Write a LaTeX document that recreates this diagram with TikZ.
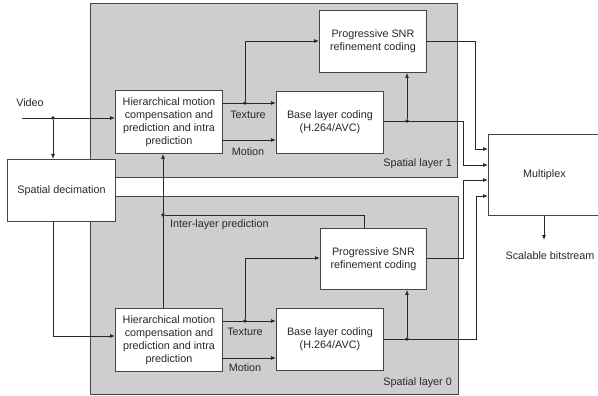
\documentclass[tikz,border=0pt]{standalone}
\usepackage{fontspec}
\setmainfont{Liberation Sans}
\usetikzlibrary{arrows.meta}
\definecolor{layerfill}{RGB}{206,206,206}
\definecolor{edge}{RGB}{70,70,70}
\definecolor{ink}{RGB}{40,40,40}
\begin{document}
\begin{tikzpicture}[x=1pt,y=-1pt,
  font=\fontsize{10.8}{13}\selectfont, text=ink,
  layer/.style={draw=edge, line width=0.9pt, fill=layerfill},
  block/.style={draw=edge, line width=0.9pt, fill=white, align=center,
    inner sep=0pt, anchor=north west},
  wire/.style={draw=ink, line width=0.8pt},
  arr/.style={wire, -{Latex[length=5pt,width=4pt]}},
  dot/.style={circle, fill=ink, inner sep=0pt, minimum size=3.6pt},
  lbl/.style={inner sep=0pt}]
\useasboundingbox (0,0) rectangle (598,396);

% spatial layers
\path[layer] (90,3) rectangle (457,177);
\path[layer] (90,196) rectangle (458,394);
\node[lbl, anchor=east] (l1) at (452,164) {Spatial layer 1};
\node[lbl, anchor=east] (l0) at (452,383) {Spatial layer 0};

% blocks
\node[block, minimum width=108pt, minimum height=62pt] (dec) at (7,159) {Spatial decimation};
\node[block, minimum width=107pt, minimum height=63pt] (h1) at (115,90)
  {Hierarchical motion\\compensation and\\prediction and intra\\prediction};
\node[block, minimum width=107pt, minimum height=62pt] (b1) at (276,91)
  {Base layer coding\\(H.264/AVC)};
\node[block, minimum width=107pt, minimum height=62pt] (s1) at (319,10)
  {Progressive SNR\\refinement coding};
\node[block, minimum width=107pt, minimum height=63pt] (h0) at (115,308)
  {Hierarchical motion\\compensation and\\prediction and intra\\prediction};
\node[block, minimum width=107pt, minimum height=62pt] (b0) at (276,308)
  {Base layer coding\\(H.264/AVC)};
\node[block, minimum width=106pt, minimum height=61pt] (s0) at (320,228)
  {Progressive SNR\\refinement coding};
\node[block, minimum width=112pt, minimum height=81pt] (mux) at (488,134) {Multiplex};

% input
\node[lbl] (video) at (30,103) {Video};
\coordinate (vin) at (22,118);
\node[dot] (vd) at (53,118) {};
\draw[arr] (vin) -- (h1.west |- vin);
\draw[arr] (vd) -- (vd |- dec.north);
\draw[arr] (vd |- dec.south) -- (53,336) -- (h0.west |- 0,336);

% layer 1
\node[dot] (t1) at (245,103) {};
\draw[arr] (h1.east |- t1) -- (b1.west |- t1);
\draw[arr] (t1) -- (245,41) -- (s1.west |- 0,41);
\draw[arr] (222,140) -- (b1.west |- 0,140);
\node[lbl] (tx1) at (248,115) {Texture};
\node[lbl] (mo1) at (248,152) {Motion};
\node[dot] (bd1) at (407,121) {};
\draw[arr] (bd1) -- (bd1 |- s1.south);
\draw[arr] (b1.east |- bd1) -- (463,121) -- (463,165) -- (mux.west |- 0,165);
\draw[arr] (s1.east |- 0,41) -- (475,41) -- (475,149) -- (mux.west |- 0,149);

% layer 0
\node[dot] (t0) at (245,321) {};
\draw[arr] (h0.east |- t0) -- (b0.west |- t0);
\draw[arr] (t0) -- (245,258) -- (s0.west |- 0,258);
\draw[arr] (222,358) -- (b0.west |- 0,358);
\node[lbl] (tx0) at (245,332) {Texture};
\node[lbl] (mo0) at (245,368) {Motion};
\node[dot] (bd0) at (407,339) {};
\draw[arr] (bd0) -- (bd0 |- s0.south);
\draw[arr] (b0.east |- bd0) -- (476,339) -- (476,196) -- (mux.west |- 0,196);
\draw[arr] (s0.east |- 0,258) -- (463,258) -- (463,180) -- (mux.west |- 0,180);

% inter-layer prediction
\node[dot] (il) at (163,215) {};
\draw[arr] (h0.north -| il) -- (h1.south -| il);
\draw[wire] (364,228) -- (364,215) -- (il);
\node[lbl, anchor=west] (ilp) at (170,225) {Inter-layer prediction};

% output
\draw[arr] (mux.south -| 544,0) -- (544,240);
\node[lbl] (out) at (550,256) {Scalable bitstream};
\end{tikzpicture}
\end{document}
